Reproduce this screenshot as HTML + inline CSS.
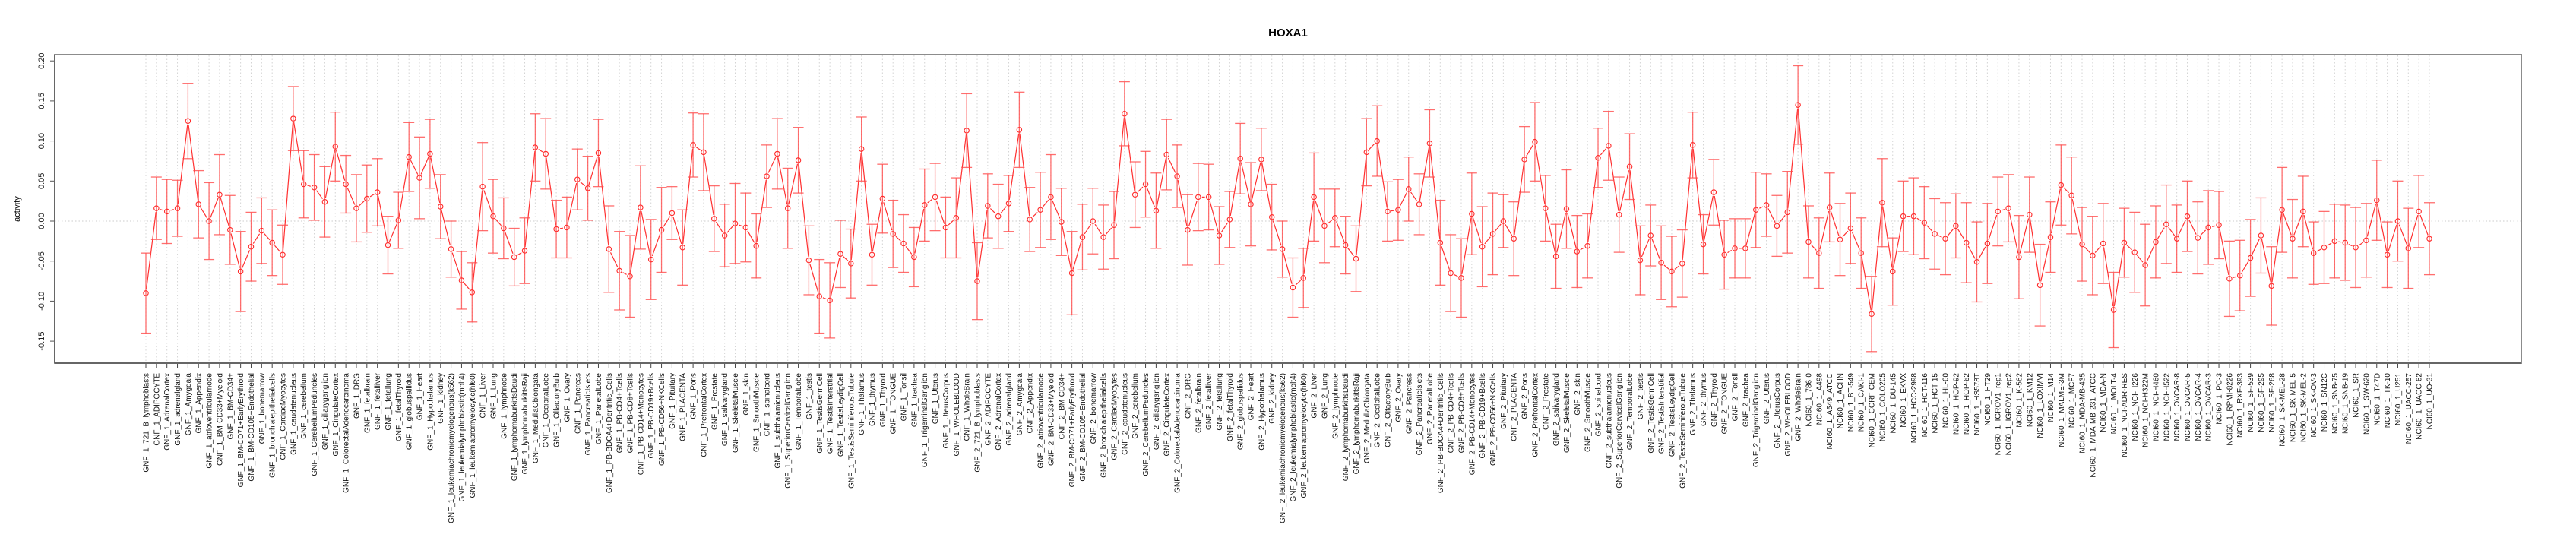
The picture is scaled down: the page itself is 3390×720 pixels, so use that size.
<!DOCTYPE html>
<html><head><meta charset="utf-8"><title>HOXA1</title>
<style>html,body{margin:0;padding:0;background:#fff}svg{display:block}text{font-family:"Liberation Sans",Arial,sans-serif}</style>
</head><body>
<svg id="chart" width="3390" height="720" xmlns="http://www.w3.org/2000/svg">
<text x="1695" y="48" text-anchor="middle" font-size="15" font-weight="bold">HOXA1</text>
<text transform="translate(26,275) rotate(-90)" text-anchor="middle" font-size="11">activity</text>
<g id="grid"></g>
<g id="yaxis"></g>
<g id="xaxis"></g>
<g id="series"></g>
<rect x="72" y="72" width="3246" height="406" fill="none" stroke="#8c8c8c" stroke-width="2"/>
<line x1="72" y1="72" x2="72" y2="478" stroke="#666" stroke-width="2"/>
<line x1="72" y1="478" x2="3318" y2="478" stroke="#666" stroke-width="2"/>
</svg>
<script>
const g1=["721_B_lymphoblasts","ADIPOCYTE","AdrenalCortex","adrenalgland","Amygdala","Appendix","atrioventricularnode","BM-CD33+Myeloid","BM-CD34+","BM-CD71+EarlyErythroid","BM-CD105+Endothelial","bonemarrow","bronchialepithelialcells","CardiacMyocytes","caudatenucleus","cerebellum","CerebellumPeduncles","ciliaryganglion","CingulateCortex","ColorectalAdenocarcinoma","DRG","fetalbrain","fetalliver","fetallung","fetalThyroid","globuspallidus","Heart","Hypothalamus","kidney","leukemiachronicmyelogenous(k562)","leukemialymphoblastic(molt4)","leukemiapromyelocytic(hl60)","Liver","Lung","lymphnode","lymphomaburkittsDaudi","lymphomaburkittsRaji","MedullaOblongata","OccipitalLobe","OlfactoryBulb","Ovary","Pancreas","PancreaticIslets","ParietalLobe","PB-BDCA4+Dentritic_Cells","PB-CD4+Tcells","PB-CD8+Tcells","PB-CD14+Monocytes","PB-CD19+Bcells","PB-CD56+NKCells","Pituitary","PLACENTA","Pons","PrefrontalCortex","Prostate","salivarygland","SkeletalMuscle","skin","SmoothMuscle","spinalcord","subthalamicnucleus","SuperiorCervicalGanglion","TemporalLobe","testis","TestisGermCell","TestisInterstitial","TestisLeydigCell","TestisSeminiferousTubule","Thalamus","thymus","Thyroid","TONGUE","Tonsil","trachea","TrigeminalGanglion","Uterus","UterusCorpus","WHOLEBLOOD","WholeBrain"];
const nci=["786-0","A498","A549_ATCC","ACHN","BT-549","CAKI-1","CCRF-CEM","COLO205","DU-145","EKVX","HCC-2998","HCT-116","HCT-15","HL-60","HOP-92","HOP-62","HS578T","HT29","IGROV1_rep1","IGROV1_rep2","K-562","KM12","LOXIMVI","M14","MALME-3M","MCF7","MDA-MB-435","MDA-MB-231_ATCC","MDA-N","MOLT-4","NCI-ADR-RES","NCI-H226","NCI-H322M","NCI-H460","NCI-H522","OVCAR-8","OVCAR-5","OVCAR-4","OVCAR-3","PC-3","RPMI-8226","RXF-393","SF-539","SF-295","SF-268","SK-MEL-28","SK-MEL-5","SK-MEL-2","SK-OV-3","SN12C","SNB-75","SNB-19","SR","SW-620","T47D","TK-10","U251","UACC-257","UACC-62","UO-31"];
const categories=[].concat(g1.map(s=>"GNF_1_"+s),g1.map(s=>"GNF_2_"+s),nci.map(s=>"NCI60_1_"+s));
const means=[-0.090,0.016,0.012,0.016,0.125,0.021,0.000,0.033,-0.011,-0.063,-0.032,-0.012,-0.027,-0.042,0.128,0.046,0.042,0.024,0.093,0.046,0.016,0.028,0.036,-0.030,0.001,0.080,0.054,0.084,0.018,-0.035,-0.074,-0.089,0.043,0.006,-0.009,-0.045,-0.037,0.092,0.084,-0.010,-0.008,0.052,0.041,0.085,-0.035,-0.062,-0.069,0.017,-0.048,-0.011,0.010,-0.033,0.095,0.086,
0.003,-0.018,-0.003,-0.008,-0.031,0.056,0.084,0.016,0.076,-0.049,-0.094,-0.099,-0.041,-0.053,0.090,-0.042,0.028,-0.016,-0.028,-0.045,0.020,0.030,-0.008,0.004,0.113,
-0.075,0.019,0.006,0.022,0.114,0.002,0.014,0.030,-0.001,-0.065,-0.020,0.000,-0.020,-0.005,0.134,0.033,0.046,0.013,0.083,0.056,-0.011,0.030,0.030,-0.018,0.002,0.078,0.021,0.077,0.005,-0.035,-0.083,-0.071,0.030,-0.006,0.004,-0.030,-0.047,0.086,0.100,0.012,0.014,0.040,0.021,0.097,-0.027,-0.065,-0.071,0.009,-0.032,-0.016,0.000,-0.022,0.077,0.099,0.016,-0.044,0.015,-0.038,-0.031,0.079,0.094,0.008,0.068,-0.049,-0.018,-0.052,-0.063,-0.053,0.095,-0.029,0.036,-0.042,-0.034,-0.034,0.014,0.020,-0.006,0.011,0.145,
-0.026,-0.040,0.017,-0.023,-0.009,-0.040,-0.116,0.023,-0.063,0.006,0.006,-0.002,-0.016,-0.022,-0.006,-0.027,-0.051,-0.028,0.012,0.016,-0.045,0.008,-0.080,-0.020,0.045,0.032,-0.029,-0.043,-0.028,-0.111,-0.027,-0.039,-0.055,-0.026,-0.004,-0.022,0.006,-0.021,-0.008,-0.005,-0.072,-0.068,-0.046,-0.018,-0.081,0.014,-0.022,0.012,-0.040,-0.033,-0.025,-0.027,-0.033,-0.024,0.026,-0.042,0.000,-0.034,0.012,-0.022];
const errors=[0.050,0.039,0.040,0.035,0.047,0.042,0.048,0.050,0.043,0.050,0.043,0.041,0.041,0.037,0.040,0.042,0.041,0.044,0.043,0.036,0.042,0.042,0.042,0.036,0.035,0.043,0.051,0.043,0.040,0.035,0.036,0.037,0.055,0.046,0.038,0.036,0.041,0.042,0.044,0.036,0.038,0.038,0.040,0.042,0.054,0.049,0.051,0.052,0.050,0.053,0.033,0.047,0.040,0.048,
0.041,0.039,0.050,0.043,0.040,0.039,0.044,0.050,0.041,0.043,0.046,0.047,0.042,0.043,0.040,0.038,0.043,0.042,0.036,0.037,0.045,0.042,0.038,0.050,0.046,
0.048,0.040,0.040,0.035,0.047,0.040,0.047,0.053,0.042,0.052,0.041,0.041,0.040,0.042,0.040,0.041,0.041,0.047,0.044,0.039,0.044,0.042,0.041,0.036,0.035,0.044,0.052,0.039,0.041,0.035,0.037,0.037,0.055,0.046,0.036,0.036,0.041,0.042,0.044,0.037,0.038,0.040,0.038,0.042,0.053,0.048,0.049,0.051,0.050,0.051,0.033,0.046,0.041,0.049,0.041,0.040,0.049,0.045,0.040,0.037,0.043,0.047,0.041,0.043,0.038,0.046,0.044,0.042,0.041,0.037,0.041,0.043,0.037,0.037,0.047,0.039,0.038,0.051,0.049,
0.045,0.044,0.043,0.045,0.044,0.044,0.047,0.055,0.042,0.044,0.048,0.045,0.044,0.045,0.040,0.050,0.050,0.050,0.043,0.042,0.052,0.047,0.051,0.044,0.050,0.048,0.046,0.049,0.050,0.047,0.043,0.050,0.051,0.045,0.049,0.042,0.044,0.045,0.046,0.042,0.047,0.044,0.048,0.047,0.049,0.053,0.049,0.044,0.039,0.045,0.046,0.047,0.050,0.046,0.050,0.041,0.050,0.050,0.045,0.045];
const yTicks=[-0.15,-0.10,-0.05,0.00,0.05,0.10,0.15,0.20];
const yTickLabels=["-0.15","-0.10","-0.05","0.00","0.05","0.10","0.15","0.20"];

const NS="http://www.w3.org/2000/svg";
const X0=192, X1=3197, Y0=291, YS=1054;
function xScale(i){return X0+i*(X1-X0)/(categories.length-1);}
function yScale(v){return Y0-v*YS;}
function mk(tag,attrs,parent){const e=document.createElementNS(NS,tag);for(const k in attrs)e.setAttribute(k,attrs[k]);parent.appendChild(e);return e;}
const grid=document.getElementById('grid'),yax=document.getElementById('yaxis'),xax=document.getElementById('xaxis'),ser=document.getElementById('series');

yTicks.forEach((t,i)=>{
  const y=yScale(t);
  const tk=mk('line',{x1:66,x2:72,y1:y,y2:y,stroke:'#555','stroke-width':1},yax);
  
  
  const lb=mk('text',{transform:`translate(58,${y}) rotate(-90)`,'text-anchor':'middle','font-size':11,fill:'#222'},yax);
  lb.textContent=yTickLabels[i];
  
  
});
const zl=mk('line',{x1:72,x2:3318,y1:yScale(0),y2:yScale(0),stroke:'#ccc','stroke-dasharray':'1.5,3','stroke-width':1},grid);



categories.forEach((c,i)=>{
  const x=xScale(i);
  const gl=mk('line',{x1:x,x2:x,y1:73,y2:477,stroke:'#d4d4d4','stroke-dasharray':'1.5,3','stroke-width':1},grid);
  
  
  const tk=mk('line',{x1:x,x2:x,y1:478,y2:484,stroke:'#444','stroke-width':1},xax);
  
  
  const lb=mk('text',{transform:`translate(${x+3.5},491) rotate(-90)`,'text-anchor':'end','font-size':10,fill:'#111'},xax);
  lb.textContent=c;
  
  
});

for(let i=0;i<means.length-1;i++){
  const xa=xScale(i),ya=yScale(means[i]),xb=xScale(i+1),yb=yScale(means[i+1]);
  const dx=xb-xa,dy=yb-ya,L=Math.hypot(dx,dy),g=5;
  if(L>2*g){
    const s=mk('line',{x1:xa+dx*g/L,y1:ya+dy*g/L,x2:xb-dx*g/L,y2:yb-dy*g/L,stroke:'#ff3030','stroke-width':1.2},ser);
    
    
  }
}
means.forEach((m,i)=>{
  const x=xScale(i),yt=yScale(m+errors[i]),yb=yScale(m-errors[i]);
  const g=mk('g',{stroke:'#ff4a4a','stroke-width':1.3,'stroke-opacity':0.8,fill:'none'},ser);
  
  
  mk('line',{x1:x,x2:x,y1:yt,y2:yb},g);
  mk('line',{x1:x-7,x2:x+7,y1:yt,y2:yt},g);
  mk('line',{x1:x-7,x2:x+7,y1:yb,y2:yb},g);
  const p=mk('circle',{cx:x,cy:yScale(m),r:3.2,fill:'none',stroke:'#ff2a2a','stroke-width':1.1},ser);
  
  
});
</script>
</body></html>
